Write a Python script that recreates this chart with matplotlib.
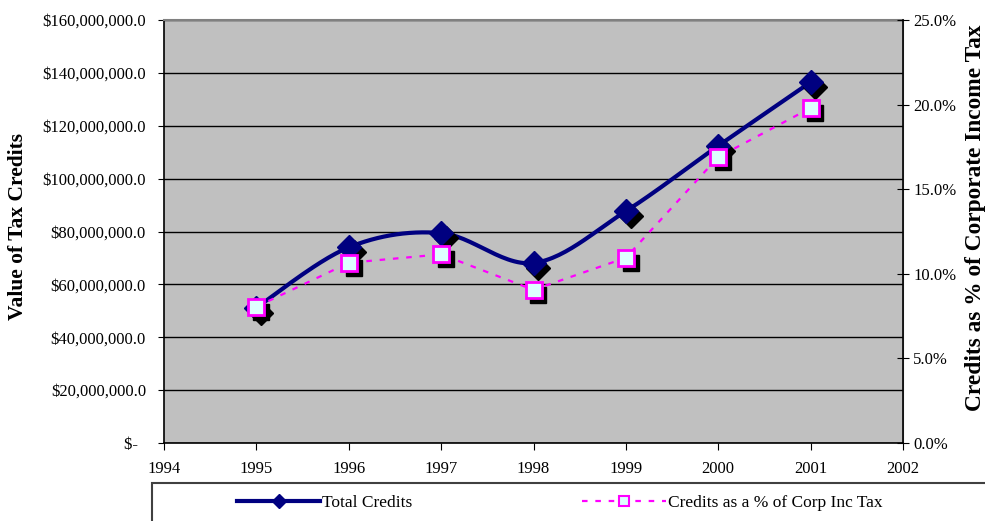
import numpy as np
import matplotlib
matplotlib.use("Agg")
import matplotlib.pyplot as plt
import matplotlib.transforms as mtransforms
from matplotlib.lines import Line2D
from matplotlib.patches import Rectangle
from matplotlib.ticker import FuncFormatter, MultipleLocator

plt.rcParams['font.family'] = ['Liberation Serif', 'DejaVu Serif']

# Data
years = [1995, 1996, 1997, 1998, 1999, 2000, 2001]
total_credits = [51.2e6, 74.0e6, 79.4e6, 68.1e6, 87.7e6, 112.4e6, 136.5e6]
pct_of_corp_tax = [8.05, 10.65, 11.15, 9.05, 10.95, 16.9, 19.8]

NAVY = "#000080"
MAGENTA = "#FF00FF"


def smooth(x, y, steps=30):
    # spreadsheet-style smoothed line: cubic Bezier through every point
    x = np.asarray(x, float)
    y = np.asarray(y, float)
    px = np.concatenate([[x[0]], x, [x[-1]]])
    py = np.concatenate([[y[0]], y, [y[-1]]])
    xs, ys = [], []
    t = np.linspace(0, 1, steps)
    for i in range(1, len(px) - 2):
        p0 = np.array([px[i], py[i]])
        p3 = np.array([px[i + 1], py[i + 1]])
        c1 = p0 + (np.array([px[i + 1], py[i + 1]]) - np.array([px[i - 1], py[i - 1]])) / 6
        c2 = p3 - (np.array([px[i + 2], py[i + 2]]) - np.array([px[i], py[i]])) / 6
        pts = ((1 - t) ** 3)[:, None] * p0 + (3 * (1 - t) ** 2 * t)[:, None] * c1 \
            + (3 * (1 - t) * t ** 2)[:, None] * c2 + (t ** 3)[:, None] * p3
        xs.extend(pts[:, 0])
        ys.extend(pts[:, 1])
    return xs, ys


fig = plt.figure(figsize=(9.85, 5.21), dpi=100)
ax = fig.add_axes([164 / 985, 78 / 521, 739 / 985, 423 / 521])
ax.set_facecolor("#C0C0C0")

ax.set_xlim(1994, 2002)
ax.set_ylim(0, 160e6)
ax.xaxis.set_major_locator(MultipleLocator(1))
ax.yaxis.set_major_locator(MultipleLocator(20e6))
ax.yaxis.set_major_formatter(FuncFormatter(
    lambda v, p: "$-  " if v == 0 else "${:,.1f}".format(v)))
ax.grid(axis="y", color="black", linewidth=1)
ax.set_axisbelow(True)
ax.tick_params(axis="y", direction="out", length=4, pad=9, labelsize=12)
ax.tick_params(axis="x", direction="out", length=5, pad=8, labelsize=12)
for side in ("left", "bottom"):
    ax.spines[side].set_color("black")
    ax.spines[side].set_linewidth(1.2)
ax.spines["top"].set_color("#808080")
ax.spines["top"].set_linewidth(1.5)
ax.spines["right"].set_color("#808080")

# total credits: smoothed navy line with shadowed diamonds
sx, sy = smooth(years, total_credits)
ax.plot(sx, sy, color=NAVY, linewidth=3, solid_capstyle="round", zorder=3)
shadow = mtransforms.offset_copy(ax.transData, fig=fig, x=3.5, y=-3.5, units="points")
ax.plot(years, total_credits, linestyle="none", marker="D", markersize=12.5,
        color="black", transform=shadow, zorder=4)
ax.plot(years, total_credits, linestyle="none", marker="D", markersize=12.5,
        color=NAVY, zorder=5)

# credits as share of corporate income tax on the right axis
ax2 = ax.twinx()
ax2.set_ylim(0, 25)
ax2.yaxis.set_major_locator(MultipleLocator(5))
ax2.yaxis.set_major_formatter(FuncFormatter(lambda v, p: "{:.1f}%".format(v)))
ax2.tick_params(axis="y", direction="inout", length=9, pad=3, labelsize=12)
ax2.spines["right"].set_color("black")
ax2.spines["right"].set_linewidth(1.2)
for side in ("left", "top", "bottom"):
    ax2.spines[side].set_visible(False)

ax2.plot(years, pct_of_corp_tax, color=MAGENTA, linewidth=1.6, dashes=(2.5, 3.5),
         zorder=3)
shadow2 = mtransforms.offset_copy(ax2.transData, fig=fig, x=3.5, y=-3.5, units="points")
ax2.plot(years, pct_of_corp_tax, linestyle="none", marker="s", markersize=11,
         color="black", transform=shadow2, zorder=4)
ax2.plot(years, pct_of_corp_tax, linestyle="none", marker="s", markersize=11,
         markerfacecolor="#DDFFFF", markeredgecolor=MAGENTA, markeredgewidth=2,
         zorder=5)

fig.text(18 / 985, 1 - 227 / 521, "Value of Tax Credits", rotation=90,
         fontsize=15.5, fontweight="bold", ha="center", va="center")
fig.text(975 / 985, 1 - 218 / 521, "Credits as % of Corporate Income Tax",
         rotation=90, fontsize=16.8, fontweight="bold", ha="center", va="center")

# legend box along the bottom
fig.patches.append(Rectangle((152 / 985, -0.05), 0.9, 0.05 + 38 / 521,
                             transform=fig.transFigure, facecolor="white",
                             edgecolor="#404040", linewidth=1.5))
handles = [
    Line2D([], [], color=NAVY, linewidth=3, marker="D", markersize=7),
    Line2D([], [], color=MAGENTA, linewidth=1.6, dashes=(2.5, 3.5), marker="s",
           markersize=7, markerfacecolor="#DDFFFF", markeredgecolor=MAGENTA,
           markeredgewidth=1.5),
]
fig.legend(handles, ["Total Credits", "Credits as a % of Corp Inc Tax"],
           loc="center left", bbox_to_anchor=(237 / 985, 1 - 503 / 521),
           ncol=2, frameon=False, fontsize=12.5, borderpad=0, borderaxespad=0,
           handlelength=4.8, handletextpad=0.1, columnspacing=9.8)

fig.savefig("out.png", dpi=100)
